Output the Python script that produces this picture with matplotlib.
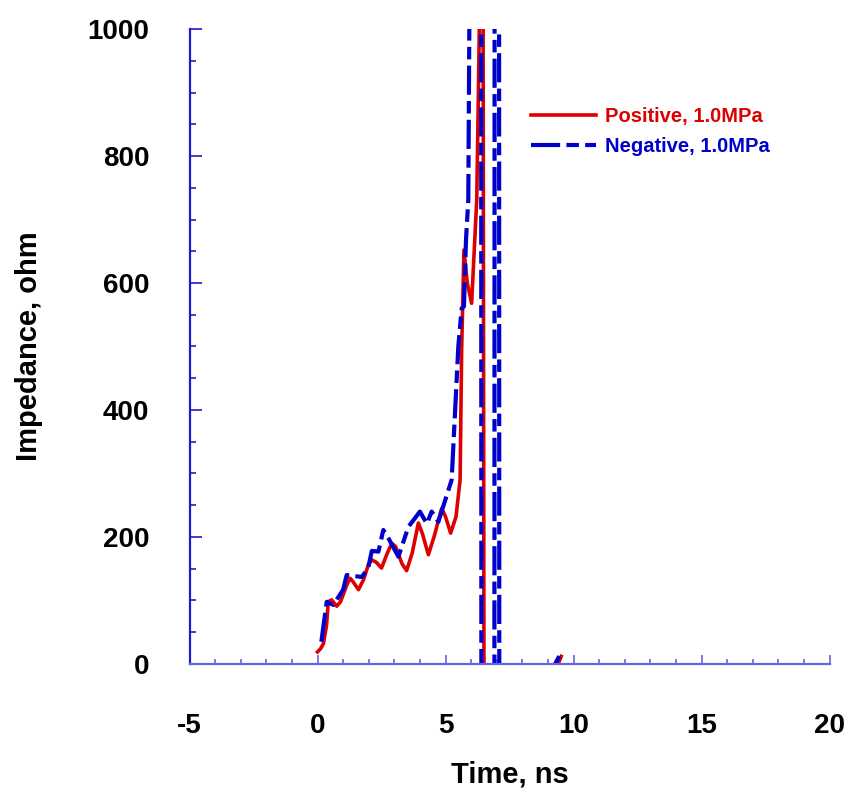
import matplotlib.pyplot as plt
from matplotlib.ticker import MultipleLocator

plt.rcParams['font.family'] = ['Liberation Sans', 'DejaVu Sans']
plt.rcParams['font.weight'] = 'bold'
plt.rcParams['axes.unicode_minus'] = False

# positive polarity, 1.0 MPa (values far outside 0..1000 are off the chart)
t_pos = [0.0, 0.12, 0.23, 0.35, 0.42, 0.55, 0.75, 0.9, 1.0, 1.15, 1.27, 1.38,
         1.6, 1.8, 2.0, 2.12, 2.3, 2.5, 2.7, 2.9, 3.05, 3.3, 3.48, 3.7,
         3.94, 4.1, 4.33, 4.55, 4.85, 5.0, 5.2, 5.41, 5.57, 5.63, 5.72,
         5.85, 6.02, 6.22, 6.28, 6.32, 6.45, 6.55, 9.0, 9.3, 9.52]
z_pos = [19, 24, 32, 60, 98, 101, 91, 98, 109, 125, 135, 130,
         117, 133, 158, 164, 160, 151, 172, 190, 185, 158, 147, 175,
         222, 205, 172, 200, 245, 232, 206, 232, 290, 494, 652,
         600, 568, 731, 888, 1003, 1600, -1500, -1500, -10, 12]

# negative polarity, 1.0 MPa
t_neg = [0.15, 0.36, 0.62, 1.0, 1.14, 1.73, 1.98, 2.12, 2.38, 2.57, 2.77,
         3.16, 3.55, 4.0, 4.27, 4.46, 4.72, 4.91, 5.24, 5.5, 5.63, 5.72,
         5.8, 5.89, 5.93, 6.2, 6.38, 6.42, 6.89, 6.93, 7.08, 7.12, 9.1,
         9.18, 9.54]
z_neg = [35, 98, 93, 117, 140, 137, 151, 178, 177, 211, 198,
         169, 216, 240, 221, 240, 224, 248, 290, 500, 560, 563,
         668, 731, 1003, 3000, 3000, -3000, -3000, 3000, 3000, -3000, -3000,
         -8, 20]

labels = ['Positive, 1.0MPa', 'Negative, 1.0MPa']
red = '#dd0000'
blue = '#0000cc'

fig = plt.figure(figsize=(8.63, 7.91), dpi=100)
ax = fig.add_axes([0.2196, 0.1606, 0.7416, 0.8027])

ax.plot(t_pos, z_pos, color=red, lw=2.6, label=labels[0])
ax.plot(t_neg, z_neg, color=blue, lw=3, dashes=(7, 1.5, 3, 1.5),
        label=labels[1])

ax.set_xlim(-5, 20)
ax.set_ylim(0, 1000)
ax.xaxis.set_major_locator(MultipleLocator(5))
ax.xaxis.set_minor_locator(MultipleLocator(1))
ax.yaxis.set_major_locator(MultipleLocator(200))
ax.yaxis.set_minor_locator(MultipleLocator(50))

for s in ['top', 'right']:
    ax.spines[s].set_visible(False)
ax.spines['bottom'].set_color('#6464e6')
ax.spines['bottom'].set_linewidth(1.6)
ax.spines['left'].set_color('#1c1cc8')
ax.spines['left'].set_linewidth(1.6)

ax.tick_params(axis='x', which='major', direction='in', length=6.5, width=1.2,
               color='#6464e6', pad=35, labelsize=20)
ax.tick_params(axis='x', which='minor', direction='in', length=3.6, width=1.2,
               color='#6464e6')
ax.tick_params(axis='y', which='major', direction='in', length=8.6, width=1.2,
               color='#1c1cc8', pad=29, labelsize=20)
ax.tick_params(axis='y', which='minor', direction='in', length=4.3, width=1.2,
               color='#1c1cc8')

ax.set_xlabel('Time, ns', fontsize=21, fontweight='bold', labelpad=16)
ax.set_ylabel('Impedance, ohm', fontsize=21, fontweight='bold', labelpad=32)

leg = ax.legend(loc='upper left', bbox_to_anchor=(0.534, 0.877), frameon=False,
                fontsize=14.5, handlelength=3.2, handletextpad=0.45,
                labelspacing=0.55, borderaxespad=0, borderpad=0,
                labelcolor='linecolor')
for txt in leg.get_texts():
    txt.set_fontweight('bold')

fig.savefig('out.png', dpi=100)
